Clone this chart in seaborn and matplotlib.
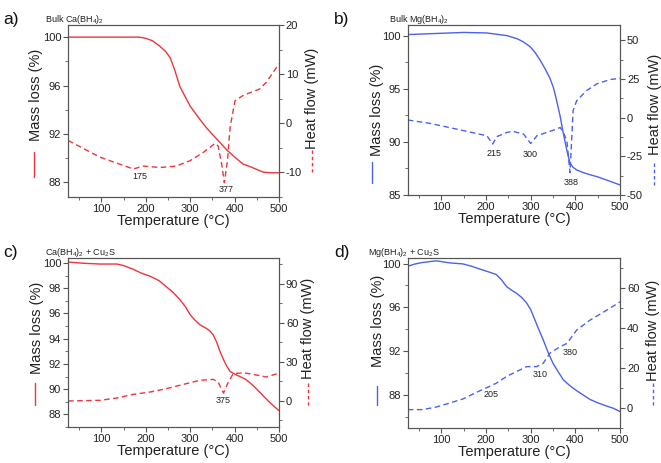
import numpy as np
import pandas as pd
import matplotlib
matplotlib.use('Agg')
import matplotlib.pyplot as plt
from matplotlib.ticker import MultipleLocator
import seaborn as sns

# a) Bulk Ca(BH4)2
a_mass_t = [25, 100, 185, 200, 215, 230, 245, 255, 265, 277, 290, 300, 320, 337, 352, 367, 382, 397, 410, 420, 432, 442, 455, 465, 480, 500]
a_mass = [100.0, 100.0, 100.0, 99.9, 99.7, 99.3, 98.8, 98.3, 97.3, 95.9, 95.0, 94.3, 93.3, 92.5, 91.9, 91.3, 90.7, 90.2, 89.8, 89.5, 89.35, 89.2, 89.0, 88.85, 88.8, 88.8]
a_heat_t = [25, 97, 172, 194, 232, 269, 300, 330, 356, 363, 371, 377, 384, 390, 401, 420, 457, 472, 500]
a_heat = [-3.5, -6.9, -9.3, -8.7, -9.0, -8.7, -7.6, -5.9, -4.1, -4.6, -8.3, -12.1, -7.6, -0.8, 4.6, 5.7, 7.0, 8.4, 12.1]

# b) Bulk Mg(BH4)2
b_mass_t = [25, 150, 202, 247, 270, 284, 299, 310, 321, 332, 343, 351, 358, 366, 373, 381, 388, 395, 403, 418, 433, 450, 470, 500]
b_mass = [100.1, 100.3, 100.25, 100.0, 99.7, 99.4, 98.95, 98.4, 97.7, 96.9, 96.0, 95.1, 93.9, 92.4, 90.8, 89.2, 88.0, 87.6, 87.35, 87.1, 86.9, 86.7, 86.4, 85.94]
b_heat_t = [25, 75, 150, 202, 215, 224, 247, 261, 284, 300, 314, 336, 358, 366, 373, 381, 388, 395, 403, 425, 448, 478, 500]
b_heat = [-1.5, -3.7, -8.4, -11.7, -17.1, -12.3, -9.5, -8.9, -10.6, -16.7, -11.7, -9.5, -7.4, -6.3, -9.5, -14.9, -35.5, 4.5, 11.0, 17.5, 21.9, 24.7, 25.5]

# c) Ca(BH4)2 + Cu2S
c_mass_t = [25, 60, 97, 135, 150, 172, 190, 210, 230, 247, 262, 277, 290, 300, 310, 322, 335, 345, 352, 360, 367, 375, 382, 390, 400, 412, 424, 435, 450, 465, 482, 500]
c_mass = [100.08, 99.98, 99.92, 99.92, 99.8, 99.5, 99.2, 98.95, 98.6, 98.1, 97.65, 97.1, 96.5, 95.9, 95.5, 95.1, 94.85, 94.6, 94.3, 93.7, 93.0, 92.35, 91.85, 91.4, 91.2, 91.0, 90.8, 90.5, 90.0, 89.45, 88.85, 88.3]
c_heat_t = [25, 97, 135, 172, 210, 247, 285, 322, 352, 363, 375, 386, 397, 420, 442, 472, 500]
c_heat = [0.0, 0.5, 2.3, 5.1, 6.9, 9.5, 12.8, 15.9, 16.6, 14.6, 6.1, 14.6, 21.0, 21.7, 20.5, 18.4, 21.5]

# d) Mg(BH4)2 + Cu2S
d_mass_t = [25, 40, 58, 89, 119, 148, 168, 186, 205, 223, 235, 246, 258, 268, 280, 291, 300, 306, 317, 328, 339, 350, 362, 373, 388, 403, 418, 433, 450, 470, 485, 500]
d_mass = [99.75, 99.95, 100.1, 100.25, 100.06, 99.97, 99.75, 99.5, 99.25, 99.0, 98.5, 97.9, 97.55, 97.3, 96.9, 96.4, 95.8, 95.2, 94.1, 93.05, 91.9, 90.9, 90.1, 89.4, 88.85, 88.4, 88.0, 87.6, 87.3, 87.0, 86.8, 86.5]
d_heat_t = [25, 58, 89, 119, 148, 186, 208, 223, 246, 268, 291, 313, 328, 343, 366, 381, 403, 433, 470, 500]
d_heat = [-0.8, -0.8, 0.5, 2.5, 4.5, 8.6, 10.8, 12.4, 15.8, 18.2, 20.7, 20.7, 22.4, 27.4, 30.7, 32.3, 39.0, 44.0, 48.9, 53.1]

red = '#f0343c'
blue = '#4a62ee'
grey = '#555555'

sns.set_style('ticks')
plt.rcParams['font.family'] = ['Liberation Sans', 'DejaVu Sans']
plt.rcParams['mathtext.fontset'] = 'custom'
plt.rcParams['mathtext.rm'] = 'Liberation Sans'
plt.rcParams['axes.unicode_minus'] = False

fig = plt.figure(figsize=(6.61, 4.63), dpi=100)

panels = [
    dict(tag='a)', title='Bulk Ca(BH$_4$)$_2$', pos=[0.103, 0.5745, 0.319, 0.3715], color=red,
         mt=a_mass_t, m=a_mass, ht=a_heat_t, h=a_heat,
         ylim=(86.8, 101.0), ymaj=4, ymin=2, hlim=(-15, 20), hmaj=10, hmin=5,
         notes=[('175', 187, -10.9), ('377', 380, -13.4)],
         lab_l=(-0.152, 0.593, -0.164, 0.262, 0.116), lab_r=(1.155, 0.576, 1.155, 0.273, 0.145),
         tagxy=(0.005, 0.975), titlexy=(0.068, 0.972)),
    dict(tag='b)', title='Bulk Mg(BH$_4$)$_2$', pos=[0.617, 0.579, 0.321, 0.367], color=blue,
         mt=b_mass_t, m=b_mass, ht=b_heat_t, h=b_heat,
         ylim=(85, 101), ymaj=5, ymin=2.5, hlim=(-50, 60), hmaj=25, hmin=12.5,
         notes=[('215', 219, -23), ('300', 299, -23.6), ('388', 390, -42)],
         lab_l=(-0.146, 0.5, -0.167, 0.194, 0.07), lab_r=(1.165, 0.53, 1.16, 0.188, 0.06),
         tagxy=(0.505, 0.975), titlexy=(0.588, 0.972)),
    dict(tag='c)', title='Ca(BH$_4$)$_2$ + Cu$_2$S', pos=[0.103, 0.0778, 0.319, 0.365], color=red,
         mt=c_mass_t, m=c_mass, ht=c_heat_t, h=c_heat,
         ylim=(87.0, 100.4), ymaj=2, ymin=1, hlim=(-20, 110), hmaj=30, hmin=15,
         notes=[('375', 374, 0)],
         lab_l=(-0.147, 0.586, -0.156, 0.26, 0.13), lab_r=(1.14, 0.586, 1.14, 0.26, 0.13),
         tagxy=(0.005, 0.47), titlexy=(0.068, 0.468)),
    dict(tag='d)', title='Mg(BH$_4$)$_2$ + Cu$_2$S', pos=[0.617, 0.0756, 0.321, 0.367], color=blue,
         mt=d_mass_t, m=d_mass, ht=d_heat_t, h=d_heat,
         ylim=(85.0, 100.5), ymaj=4, ymin=2, hlim=(-10, 75), hmaj=20, hmin=10,
         notes=[('205', 212, 6.6), ('310', 322, 16.6), ('380', 389, 27.9)],
         lab_l=(-0.142, 0.63, -0.146, 0.25, 0.135), lab_r=(1.155, 0.576, 1.155, 0.265, 0.135),
         tagxy=(0.505, 0.47), titlexy=(0.557, 0.468)),
]

for p in panels:
    ax = fig.add_axes(p['pos'])
    ax2 = ax.twinx()
    mass_df = pd.DataFrame({'T': p['mt'], 'v': p['m']})
    heat_df = pd.DataFrame({'T': p['ht'], 'v': p['h']})
    sns.lineplot(data=mass_df, x='T', y='v', ax=ax, color=p['color'], lw=1.0)
    sns.lineplot(data=heat_df, x='T', y='v', ax=ax2, color=p['color'], lw=1.0,
                 dashes=False, linestyle=(0, (4, 2.5)))
    ax.set_xlim(25, 500)
    ax.set_ylim(*p['ylim'])
    ax2.set_ylim(*p['hlim'])
    ax.xaxis.set_major_locator(MultipleLocator(100))
    ax.xaxis.set_minor_locator(MultipleLocator(50))
    ax.yaxis.set_major_locator(MultipleLocator(p['ymaj']))
    ax.yaxis.set_minor_locator(MultipleLocator(p['ymin']))
    ax2.yaxis.set_major_locator(MultipleLocator(p['hmaj']))
    ax2.yaxis.set_minor_locator(MultipleLocator(p['hmin']))
    for a in (ax, ax2):
        for s in a.spines.values():
            s.set_visible(True)
            s.set_color(grey)
            s.set_linewidth(0.8)
        a.tick_params(which='both', direction='out', colors=grey, labelcolor='#222222',
                      labelsize=8, pad=1.5)
        a.tick_params(which='major', length=3.5, width=0.8)
        a.tick_params(which='minor', length=2, width=0.6)
        a.set_ylabel('')
    ax.tick_params(axis='y', right=False)
    ax.set_xlabel('Temperature (°C)', fontsize=10.5, labelpad=0, color='#222222')

    xl, yl, lx, ly0, ly1 = p['lab_l']
    ax.text(xl, yl, 'Mass loss (%)', transform=ax.transAxes, rotation=90,
            ha='center', va='center', fontsize=10.5, color='#222222')
    ax.plot([lx, lx], [ly0, ly1], transform=ax.transAxes, clip_on=False,
            color=p['color'], lw=1.0)
    xr, yr, rx, ry0, ry1 = p['lab_r']
    ax2.text(xr, yr, 'Heat flow (mW)', transform=ax2.transAxes, rotation=90,
             ha='center', va='center', fontsize=10.5, color='#222222')
    ax2.plot([rx, rx], [ry0, ry1], transform=ax2.transAxes, clip_on=False,
             color=p['color'], lw=1.0, linestyle=(0, (2.5, 2)))

    for txt, tx, ty in p['notes']:
        ax2.text(tx, ty, txt, fontsize=6.5, ha='center', va='center', color='#222222')

    fig.text(*p['tagxy'], p['tag'], fontsize=12.5, ha='left', va='top', color='#111111')
    fig.text(*p['titlexy'], p['title'], fontsize=6.5, ha='left', va='top', color='#222222')

fig.savefig('out.png', dpi=100)
